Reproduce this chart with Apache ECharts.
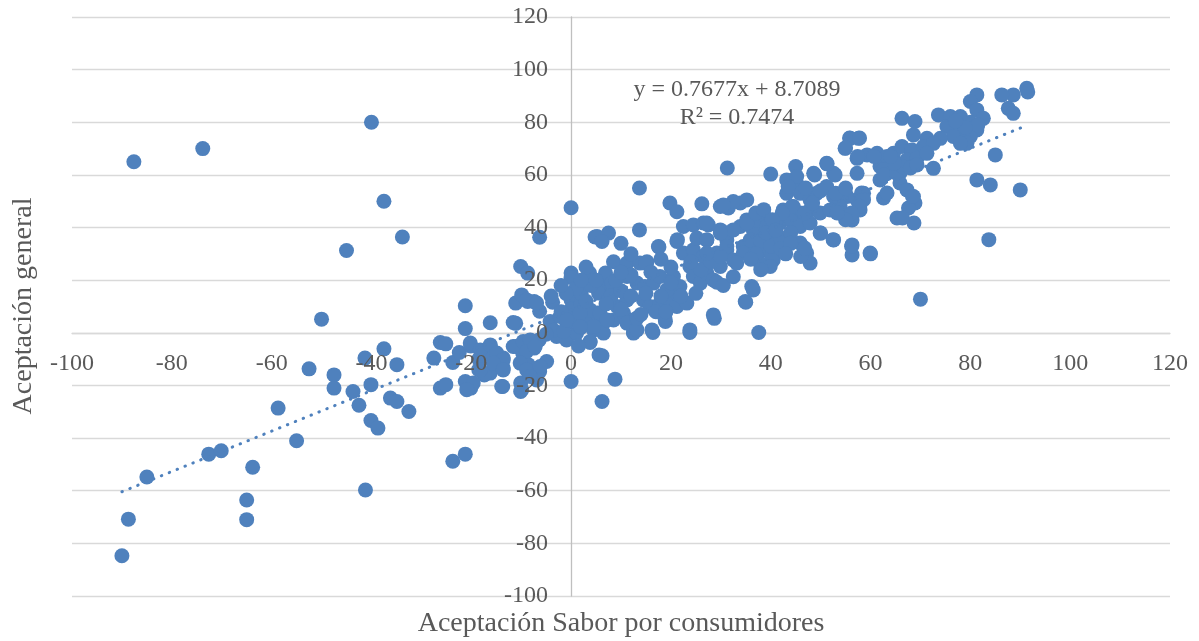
<!DOCTYPE html>
<html>
<head>
<meta charset="utf-8">
<script src="https://cdn.jsdelivr.net/npm/echarts@6/dist/echarts.min.js"></script>
<style>
html,body{margin:0;padding:0;background:#fff;}
#chart{width:1199px;height:641px;}
</style>
</head>
<body>
<div id="chart"></div>
<script>
// ---- Data ----
const xAxisTitle = 'Aceptación Sabor por consumidores';
const yAxisTitle = 'Aceptación general';
const xTicks = [-100, -80, -60, -40, -20, 0, 20, 40, 60, 80, 100, 120];
const yTicks = [-100, -80, -60, -40, -20, 0, 20, 40, 60, 80, 100, 120];
const trendSlope = 0.7677;
const trendIntercept = 8.7089;
const equationText = 'y = 0.7677x + 8.7089';
const r2Text = 'R² = 0.7474';

const pointsLeft = [
[-90,-84.7],[-88.7,-70.8],[-87.6,65],[-85,-54.8],[-73.8,70],[-72.6,-46.1],[-70.1,-44.8],[-65,-63.5],[-65,-71],[-63.8,-51.1],
[-58.7,-28.6],[-55,-41],[-52.5,-13.7],[-50,5.2],[-47.5,-16],[-47.5,-21],[-45,31.3],[-43.7,-22.3],[-42.5,-27.5],[-41.2,-59.7],
[-41.3,-9.6],[-40,80],[-40.1,-19.7],[-40.1,-33.3],[-38.7,-36.2],[-37.5,50],[-37.5,-6.1],[-36.2,-24.8],[-34.9,-26.1],[-34.9,-12.1],
[-33.8,36.4],[-32.5,-29.9],[-27.5,-9.6],[-26.2,-3.7],[-25.1,-4.2],[-26.2,-21],[-25.1,-19.7],[-23.7,-48.8],[-21.2,-46.1],[-23.7,-11.3],
[-22.4,-7.5],[-21.2,1.6],[-21.2,10.3],[-20.1,-5],[-21.2,-18.5],[-20.1,-21],[-18.5,-10],[-18.5,-14],[-16.2,3.8],[-16.2,-5],
[-16.2,-8.4],[-16.2,-15.3],[-17.4,-16],[-14.7,-10.9],[-13.6,-9.6],[-13.6,-13.4],[-13.7,-20.4],[-11.1,3.6],[-11.1,-5.2],[-9.7,-7.7],
[-8.6,-4.6],[-7.4,-5.8],[-8.6,-12.1],[-10.1,-19.1],[-10.1,-22.3],[-6.3,-14.7],[-4.9,-10.9],[-6.4,-2.7],[-10.1,25.2],[-8.7,22.7],
[-6.3,36.3],[-11.1,11.3],[-8.7,11.9],[-7.4,11.9],[-6.3,8.2],[-3.7,11.6],
[-20.2,-3.9],[-18.2,-6.5],[-16.2,-4.6],[-14.9,-7.7],[-13.6,-10.3],[-15.6,-11.5],[-13.6,-14.1],[-18.2,-14.1],[-19.6,-19.1],[-20.9,-21.6],
[-11.6,-5.2],[-9.6,-3.3],[-8.2,-2.7],[-8.9,-7.1],[-7.2,-5.2],[-10.2,-11.5],[-8.9,-14.1],[-6.2,-12.8],[-6.9,-17.9],[-13.9,-20.4],
[-9.9,-21.6],[-8.2,-16.6],[-9.9,14.4],[-11.6,3.9],[-8.9,12.5],[-6.9,11.3]
];

const pointsCenter = [
[0,47.5],[0,22.7],[0,21],[0,13.8],[0,12.6],[0,-18.5],[3.7,22.7],[4.8,36.4],[5.2,36.6],[7.5,37.9],
[6.2,34.7],[10,34],[13.7,39.1],[13.7,55],[17.5,32.8],[19.8,49.3],[21.2,46],[26.2,49],[29.9,48],[31.5,47.4],
[33.9,49.3],[3.8,-3.7],[6.2,-8.7],[5.6,-8.4],[6.2,-26.1],[8.8,-17.6],[12.5,0.1],[16.4,0.1],[23.8,0.1],[37.6,0.1],
[18.9,4.3],[28.7,5.5],[35,11.6],[36.2,17.6],[28.5,6.8],
[-4.2,4.3],[-2.2,6.2],[-0.9,3.7],[1.1,4.9],[3.1,6.2],[5.2,7.5],[6.5,3.7],[8.5,4.9],[10.5,7.5],[12.5,4.9],
[-2.9,-1.4],[-0.9,-2.7],[1.1,-0.1],[4.5,1.1],[6.5,-0.1],[3.8,-3.3],[12.5,-0.1],[11.2,3.7],[-3.5,1],[-1.5,0.5],
[2,2],[-5,-0.5],[0,9],[2,11],[-2,8],[1.5,-5],
[3.8,8.7],[1.8,7.5],[5.8,7.5],[7.2,4.9],[4.5,2.4],[-0.9,4.9],[1.8,2.4],[9.2,10],[11.2,12.5],[14.5,12.5],
[15.8,10],[17.8,11.3],[19.8,12.5],[21.2,10],[23.2,11.3],[21.2,15],[13.2,1.1],[13.2,5.6],[16.2,1.1],[18.8,5.6],[23.8,1.1]
];

const pointsMid = [
[6.9,22.7],[6.9,17.6],[5.5,15.1],[8.2,18.9],[11.2,21.4],[13.2,18.9],[14.8,17.6],[16.5,18.9],[17.8,21.4],[19.2,16.3],
[20.5,21.4],[21.8,17.6],[23.8,25.2],[24.5,21.4],[25.9,18.9],[27.2,22.7],[28.5,20.1],[29.9,25.2],[29.2,19.2],[30.5,18],
[32.5,21.3],[34.9,11.9],[36.5,16.3],
[8.5,27],[11.2,26.5],[13.8,26.5],[15.2,27],[22.5,30.3],[24.5,31.5],[26.5,29],[29.2,30.3],[31.2,31.5],[32.5,27.7],
[34.5,32.8],[36.5,34.1],[31.2,35.3],[33.9,40.4],[35.2,42.9],[36.5,39.1],[29.9,39.1],[31.2,38],[22.5,40.4],[24.5,41],
[26.5,41.7],[27.5,41],[25.2,36],[27.2,35.3],[21.2,34.7],[21.3,35.4],[15,26.5],[17.6,32.6],
[2,15],[4,18],[3,12],[8,14],[10,16],[12,14],[9,20],[12,22],[15,15],[17,8],
[10,9],[14,7],[7,11],[16,23],[18,14],[20,19],[19,8],[22,14],[25,15],[26,24],
[28,27],[24,27],[20,25],[18,28],[12,30],[10,23],[5,20],[3,25],[1,17],[-1,15],[-2,18],[-4,14],[2,20]
];

const pointsUpperMid = [
[31.3,62.6],[40,60.3],[45,63.2],[48.6,60.6],[51.2,64.4],[52.6,60.6],[57.3,60.6],[55.9,73.9],[57.6,73.9],[54.9,70.1],
[57.3,66.3],[59.3,67.6],[61.3,68.2],[63.3,66.3],[64.6,68.2],[61.9,63.2],[63.3,60.6],[65.3,61.9],[62.6,51.2],[65.3,43.6],
[58.6,53],[57.3,50.5],[55.3,51.8],[53.2,51.8],[53.9,48],[56.3,42.9],[57.9,46.7],[49.9,37.9],[52.6,35.3],[56.3,33.4],
[56.3,29.6],[59.9,30.3],[45.9,34.1],[47.2,30.3],[47.9,26.5],[43.2,58.1],[45.2,56.8],[43.2,53],[45.9,53],[47.9,50.5],
[49.2,53],[51.2,55.6],[52.6,51.8],[42.5,46.7],[44.5,48],[45.9,45.5],[47.9,46.7],[49.9,45.5],[51.9,46.7],[53.9,45.5],
[41.9,41.7],[43.9,42.9],[45.9,40.4],[47.9,41.7],[38.5,45.5],[37.2,42.9],[39.2,40.4],[40.5,37.9],[35.2,50.5],[32.5,49.9],
[30.5,48.6],[35.2,41.7],[32.5,39.1],[29.9,37.9],[27.2,41.7],[27.2,35.3],[35.9,35.3],[38.5,31.5],[40.5,27.7],[34.5,30.3],
[31.2,32.8],[29.9,29],[27.2,30.3],[33.2,26.5],[37.9,26.5],
[44.3,48],[46.8,45.5],[48.4,49.3],[50,37.9],[52.5,35.4],[46,29],[46.8,32.2],[40.3,29],[39.9,25.2],[42.3,45.5],
[37,45.5],[38.6,46.8],[40.3,43],[45.2,59.4],[48.8,60],[52.9,60],[51.3,64.2],[43.5,55.6],[47,55],[50,54],[53,53],[55,55],
[38,35],[40,33],[42,36],[44,38],[42,32],[44,34],[39,38],[41,39],[37,30],[43,30],[36,28],[38,24]
];

const pointsUpper = [
[91.3,92.9],[91.5,91.5],[88.6,90.4],[86.3,90.4],[87.6,85.3],[88.6,83.4],[81.3,90.4],[80,87.9],[81.3,84.7],[82.6,81.5],
[81.3,77.1],[80,74.6],[73.6,82.8],[76,82.2],[78,82.2],[77.3,78.4],[78.6,75.9],[79.3,72],[75.3,78.4],[76.6,74.6],
[78,72],[80,80],[81.5,79],[79,78],[77,80.5],[66.3,81.5],[68.9,80.3],[68.6,75.2],[71.3,73.9],[74,73.9],
[66.3,70.8],[68.3,69.5],[70.6,70.8],[72.6,72],[63.3,67],[65.3,64.4],[67.3,65.7],[69.3,66.3],[71.3,68.2],[72.6,62.5],
[85,67.6],[81.3,58.1],[84,56.2],[90,54.3],[65.9,60.7],[65.9,56.9],[67.3,54.3],[68.6,51.8],[63.3,53.1],[62.6,61.9],
[61.9,58.1],[83.7,35.4],[70,12.8],[68.9,49.3],[67.6,47.4],[68.7,41.7],[66.4,43.6],[68.4,51.8],[58.2,53.1],[58.6,50.6],
[57.8,48.1],[56.2,45.5],[55,43],[53.3,45.5],[56.2,32.8],[60,30],[57.4,67],[60.7,67],[55.8,74],[57.8,74],
[55,70.2],[62.7,60],[65.2,60.7],[66.4,63.2],[68,62.6],[69.3,63.8],[64.8,64.5],[64,67]
];

// ---- Chart ----
const allPoints = [].concat(pointsLeft, pointsCenter, pointsMid, pointsUpperMid, pointsUpper);
const xs = allPoints.map(p => p[0]);
const xMinData = Math.min.apply(null, xs);
const xMaxData = Math.max.apply(null, xs);
const trendData = [
  [xMinData, trendSlope * xMinData + trendIntercept],
  [xMaxData, trendSlope * xMaxData + trendIntercept]
];

const FONT = '"Liberation Serif", "Times New Roman", serif';
const TEXT = '#595959';
const BLUE = '#4F81BD';

// grid layout (pixels)
const W = 1199, H = 641;
const G = {left: 72, right: 29, top: 17, bottom: 45};
const gw = W - G.left - G.right, gh = H - G.top - G.bottom;
const xMin = xTicks[0], xMax = xTicks[xTicks.length - 1];
const yMin = yTicks[0], yMax = yTicks[yTicks.length - 1];
// move axes so they cross at zero (labels travel with the axis lines)
const xAxisOffset = -gh * (0 - yMin) / (yMax - yMin);
const yAxisOffset = -gw * (0 - xMin) / (xMax - xMin);

const xBase = {
  type: 'value', position: 'bottom', offset: xAxisOffset,
  min: xMin, max: xMax, interval: xTicks[1] - xTicks[0],
  axisTick: {show: false}
};
const yBase = {
  type: 'value', position: 'left', offset: yAxisOffset,
  min: yMin, max: yMax, interval: yTicks[1] - yTicks[0],
  axisTick: {show: false}
};

const chart = echarts.init(document.getElementById('chart'), null, {renderer: 'canvas'});
chart.setOption({
  animation: false,
  backgroundColor: '#ffffff',
  grid: {left: G.left, right: G.right, top: G.top, bottom: G.bottom, containLabel: false},
  xAxis: [
    Object.assign({}, xBase, {
      z: 0,
      axisLine: {show: true, onZero: false, lineStyle: {color: '#d9d9d9', width: 1.3}},
      splitLine: {show: false},
      axisLabel: {show: false}
    }),
    Object.assign({}, xBase, {
      z: 10,
      axisLine: {show: false, onZero: false},
      splitLine: {show: false},
      axisLabel: {color: TEXT, fontFamily: FONT, fontSize: 24, margin: 19, showMinLabel: true, showMaxLabel: true}
    })
  ],
  yAxis: [
    Object.assign({}, yBase, {
      z: 0,
      axisLine: {show: true, onZero: false, lineStyle: {color: '#bfbfbf', width: 1.3}},
      splitLine: {show: true, lineStyle: {color: '#d9d9d9', width: 1.3}},
      axisLabel: {show: false}
    }),
    Object.assign({}, yBase, {
      z: 10,
      axisLine: {show: false, onZero: false},
      splitLine: {show: false},
      axisLabel: {color: TEXT, fontFamily: FONT, fontSize: 24, margin: 23, showMinLabel: true, showMaxLabel: true}
    })
  ],
  series: [
    {
      type: 'scatter',
      xAxisIndex: 0, yAxisIndex: 0,
      data: allPoints,
      symbol: 'circle',
      symbolSize: 15,
      itemStyle: {color: BLUE, opacity: 1},
      z: 2,
      silent: true
    },
    {
      type: 'line',
      xAxisIndex: 0, yAxisIndex: 0,
      data: trendData,
      symbol: 'none',
      lineStyle: {color: BLUE, width: 3, type: [0.5, 8], cap: 'round'},
      z: 3,
      silent: true
    }
  ],
  graphic: [
    {type: 'text', x: 24, y: 306, rotation: Math.PI / 2,
     style: {text: yAxisTitle, textAlign: 'center', textVerticalAlign: 'middle', font: '28px ' + FONT, fill: TEXT}},
    {type: 'text', x: 621, y: 624,
     style: {text: xAxisTitle, textAlign: 'center', textVerticalAlign: 'middle', font: '28px ' + FONT, fill: TEXT}},
    {type: 'text', x: 737, y: 90, z: 10,
     style: {text: equationText, textAlign: 'center', textVerticalAlign: 'middle', font: '24px ' + FONT, fill: TEXT}},
    {type: 'text', x: 737, y: 118, z: 10,
     style: {text: r2Text, textAlign: 'center', textVerticalAlign: 'middle', font: '24px ' + FONT, fill: TEXT}}
  ]
});
</script>
</body>
</html>
